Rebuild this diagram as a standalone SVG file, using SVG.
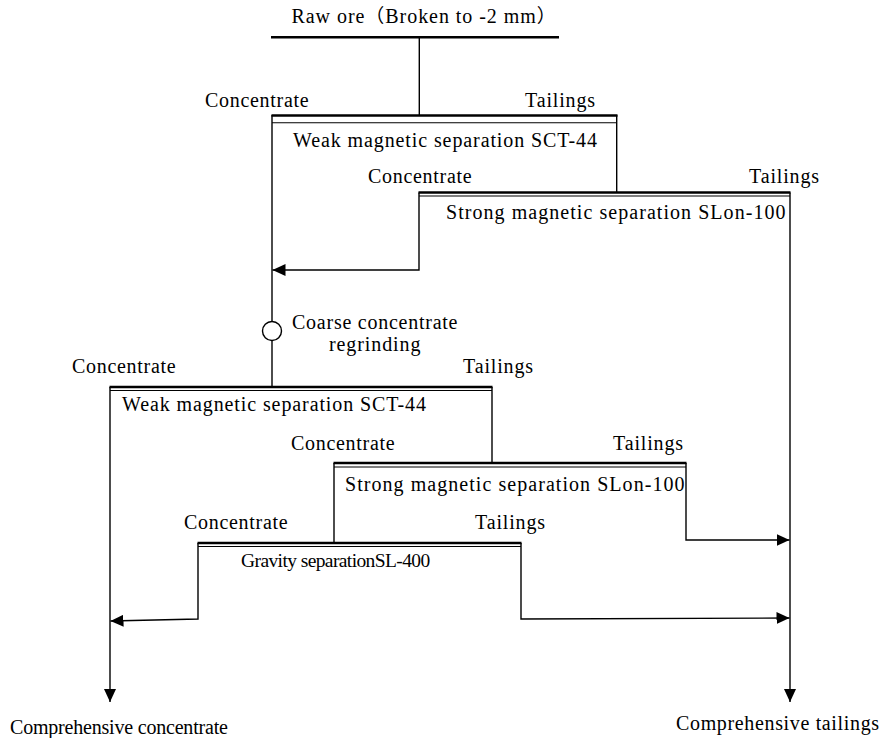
<svg xmlns="http://www.w3.org/2000/svg" width="882" height="738" viewBox="0 0 882 738">
<style>
  text { font-family: "Liberation Serif", "Times New Roman", serif; font-size: 20px; fill: #000; }
  .cjk { font-family: "Noto Sans CJK SC", sans-serif; font-size: 19px; }
  .c { letter-spacing: 0.7px; }
  .t { letter-spacing: 0.85px; }
  .wk { letter-spacing: 0.9px; }
  .st { letter-spacing: 1.05px; }
  .ln { fill: none; stroke: #000; stroke-width: 1.4; }
  .bar { fill: none; stroke: #000; stroke-width: 2.6; }
  .thin { fill: none; stroke: #000; stroke-width: 1.1; }
</style>
<defs>
  <marker id="ah" markerUnits="userSpaceOnUse" markerWidth="14" markerHeight="12" refX="13" refY="6" orient="auto">
    <path d="M0,0 L13,6 L0,12 Z" fill="#000"/>
  </marker>
</defs>
<rect width="882" height="738" fill="#fff"/>

<g id="raw-ore">
  <text x="291.5" y="23" style="letter-spacing:0.95px">Raw ore<tspan class="cjk">（</tspan>Broken to -2 mm<tspan class="cjk">）</tspan></text>
  <line class="bar" x1="271" y1="37.3" x2="559" y2="37.3"/>
</g>

<g id="weak1">
  <line class="bar" x1="271.5" y1="115.5" x2="617.5" y2="115.5"/>
  <line class="thin" x1="272" y1="122.8" x2="617" y2="122.8"/>
  <text class="c" x="205" y="106.5">Concentrate</text>
  <text class="t" x="525" y="106.5">Tailings</text>
  <text class="wk" x="293" y="146.5">Weak magnetic separation SCT-44</text>
</g>

<g id="strong1">
  <line class="bar" x1="418.5" y1="192.5" x2="790.5" y2="192.5"/>
  <line class="thin" x1="419" y1="196" x2="790" y2="196"/>
  <text class="c" x="368" y="182.5">Concentrate</text>
  <text class="t" x="749" y="182.5">Tailings</text>
  <text class="st" x="446" y="218.5">Strong magnetic separation SLon-100</text>
</g>

<g id="regrinding">
  <circle cx="272" cy="331" r="9.5" fill="#fff" stroke="#000" stroke-width="1.4"/>
  <text x="292" y="328.5" style="letter-spacing:0.75px">Coarse concentrate</text>
  <text x="329" y="351" style="letter-spacing:0.9px">regrinding</text>
</g>

<g id="weak2">
  <line class="bar" x1="109.5" y1="387" x2="492.5" y2="387"/>
  <line class="thin" x1="110" y1="390.5" x2="492" y2="390.5"/>
  <text class="c" x="72" y="373">Concentrate</text>
  <text class="t" x="463" y="373">Tailings</text>
  <text class="wk" x="122" y="411">Weak magnetic separation SCT-44</text>
</g>

<g id="strong2">
  <line class="bar" x1="333.5" y1="463" x2="686.5" y2="463"/>
  <line class="thin" x1="334" y1="467" x2="686" y2="467"/>
  <text class="c" x="291" y="450">Concentrate</text>
  <text class="t" x="613" y="450">Tailings</text>
  <text class="st" x="345" y="491">Strong magnetic separation SLon-100</text>
</g>

<g id="gravity">
  <line class="bar" x1="197.5" y1="543" x2="521.5" y2="543"/>
  <line class="thin" x1="198" y1="546.5" x2="521" y2="546.5"/>
  <text class="c" x="184" y="529">Concentrate</text>
  <text class="t" x="475" y="529">Tailings</text>
  <text x="241" y="567" style="font-size:19.5px;letter-spacing:-0.6px">Gravity separationSL-400</text>
</g>

<g id="outputs">
  <text x="10" y="734" style="letter-spacing:-0.2px">Comprehensive concentrate</text>
  <text x="676" y="730" style="letter-spacing:0.65px">Comprehensive tailings</text>
</g>

<g id="connectors">
  <line class="ln" x1="419.3" y1="37" x2="419.3" y2="115"/>
  <line class="ln" x1="272" y1="115" x2="272" y2="321.5"/>
  <line class="ln" x1="272" y1="340.5" x2="272" y2="387"/>
  <line class="ln" x1="616.7" y1="115" x2="616.7" y2="192.5"/>
  <polyline class="ln" points="419,192.5 419,270 272.5,270" marker-end="url(#ah)"/>
  <line class="ln" x1="790" y1="192.5" x2="790" y2="702" marker-end="url(#ah)"/>
  <line class="ln" x1="110" y1="387" x2="110" y2="702" marker-end="url(#ah)"/>
  <line class="ln" x1="492" y1="387" x2="492" y2="463"/>
  <line class="ln" x1="334" y1="463" x2="334" y2="543"/>
  <polyline class="ln" points="686,463 686,540 789.5,540" marker-end="url(#ah)"/>
  <polyline class="ln" points="198,543 198,619 110.5,621" marker-end="url(#ah)"/>
  <polyline class="ln" points="521,543 521,619 789.5,618" marker-end="url(#ah)"/>
</g>
</svg>
